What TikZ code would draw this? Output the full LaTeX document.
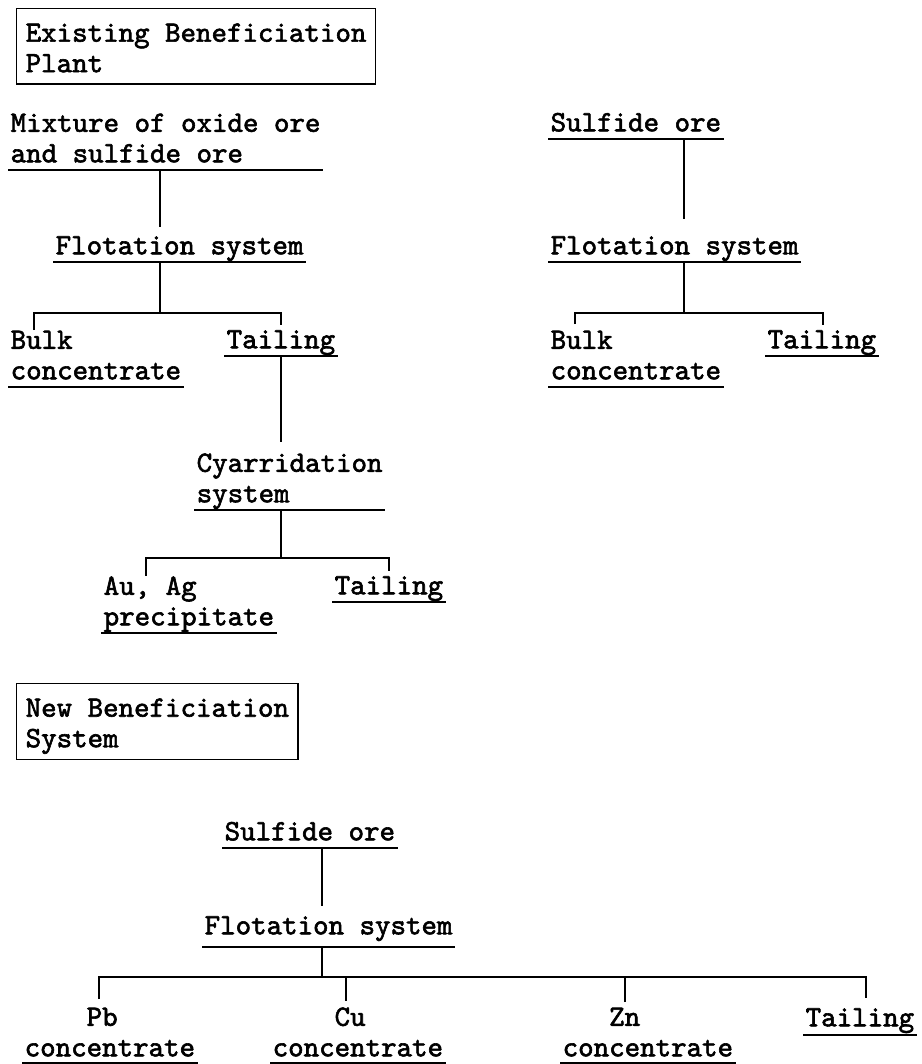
\documentclass[tikz,border=0pt]{standalone}
\usepackage{fontspec}
\newfontfamily\typew{lmmono10-regular.otf}[FakeBold=2]
\usepackage{tikz}
\newcommand\boxtop{\rule{0pt}{33pt}}

\begin{document}
\begin{tikzpicture}[
    x=1pt, y=-1pt,
    line width=1.4pt,
    item/.style={font=\typew\fontsize{29.5}{30.5}\selectfont, align=left, anchor=south west,
        inner xsep=2pt, inner ysep=0pt, execute at end node={\rule[-#1]{0pt}{#1}}},
    item/.default=7pt,
    title/.style={draw, font=\typew\fontsize{29.5}{30.5}\selectfont, align=left, anchor=north west,
        inner xsep=9pt, inner ysep=0pt, execute at end node={\rule[-12pt]{0pt}{12pt}}}
]
\useasboundingbox (0,0) rectangle (921,1064);

\node[title] (exist) at (16,8) {\boxtop Existing Beneficiation\\Plant};
\node[item] (mix) at (8,170) {Mixture of oxide ore\\and sulfide ore};
\node[item] (flot1) at (53,262) {Flotation system};
\node[item] (bulk1) at (8,387) {Bulk\\concentrate};
\node[item] (tail1) at (224,356) {Tailing};
\node[item] (cya) at (194,510) {Cyarridation\\system};
\node[item] (au) at (101,633) {Au, Ag\\precipitate};
\node[item] (tail2) at (332,602) {Tailing};

\node[item] (sulf1) at (548,139) {Sulfide ore};
\node[item] (flot2) at (548,262) {Flotation system};
\node[item] (bulk2) at (548,387) {Bulk\\concentrate};
\node[item] (tail3) at (765,356) {Tailing};

\node[title] (newsys) at (16,683) {\boxtop New Beneficiation\\System};
\node[item] (sulf2) at (222,848) {Sulfide ore};
\node[item=12pt] (flot3) at (202,947) {Flotation system};
\node[item=6pt] (pb) at (22,1063) {\phantom{xxxx}Pb\\concentrate};
\node[item=6pt] (cu) at (270,1063) {\phantom{xxxx}Cu\\concentrate};
\node[item=6pt] (zn) at (560,1063) {\phantom{xxx}Zn\\concentrate};
\node[item=8pt] (tail4) at (803,1035) {Tailing};

\foreach \n in {mix,flot1,bulk1,tail1,cya,au,tail2,sulf1,flot2,bulk2,tail3,sulf2,flot3,pb,cu,zn,tail4}
    \draw (\n.south west) -- (\n.south east);

\coordinate (j1) at (160,313);
\coordinate (j2) at (281,558);
\coordinate (j3) at (684,313);
\coordinate (j4) at (322,977);

\draw[shorten >=9pt] (mix.south -| j1) -- (flot1.north -| j1);
\draw (flot1.south -| j1) -- (j1);
\draw[shorten >=5pt] ([xshift=26pt]bulk1.north west) |- (j1) -| (tail1.north);
\draw[shorten >=11pt] (tail1.south -| j2) -- (cya.north -| j2);
\draw (cya.south -| j2) -- (j2);
\draw[shorten >=5pt] ([xshift=45pt]au.north west) |- (j2) -| (tail2.north);

\draw[shorten >=17pt] (sulf1.south -| j3) -- (flot2.north -| j3);
\draw (flot2.south -| j3) -- (j3);
\draw[shorten <=6pt, shorten >=5pt] ([xshift=27pt]bulk2.north west) |- (j3) -| ([xshift=1pt]tail3.north);

\draw[shorten >=10pt] (sulf2.south -| j4) -- (flot3.north -| j4);
\draw (flot3.south -| j4) -- (j4);
\draw[shorten <=8pt, shorten >=10pt] ([xshift=77pt]pb.north west) |- (j4) -| ([xshift=6pt]tail4.north);
\draw[shorten <=6pt] ([xshift=76pt]cu.north west) |- (j4);
\draw[shorten <=5pt] ([xshift=65pt]zn.north west) |- (j4);
\end{tikzpicture}
\end{document}
